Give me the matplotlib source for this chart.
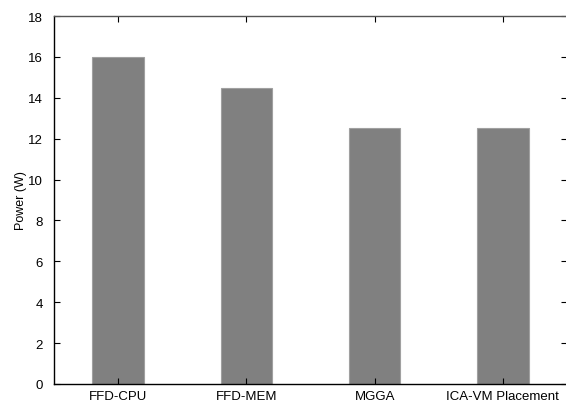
import matplotlib
matplotlib.use("Agg")
import matplotlib.pyplot as plt

categories = ["FFD-CPU", "FFD-MEM", "MGGA", "ICA-VM Placement"]
power = [16.0, 14.5, 12.5, 12.5]
yticks = [0, 2, 4, 6, 8, 10, 12, 14, 16, 18]

plt.rcParams['font.family'] = ['Liberation Sans', 'DejaVu Sans']

fig = plt.figure(figsize=(5.66, 4.02), dpi=100)
ax = fig.add_axes([54/566, 17/402, (567 - 54)/566, 368/402])

x = list(range(1, len(categories) + 1))
ax.bar(x, power, width=0.4, color='#808080', edgecolor='#a0a0a0', linewidth=0.8)

ax.set_xlim(0.5, 4.5)
ax.set_ylim(0, 18)
ax.set_xticks(x)
ax.set_xticklabels(categories, fontsize=9.5)
ax.set_yticks(yticks)
ax.set_yticklabels([str(v) for v in yticks], fontsize=9.5)
ax.set_ylabel("Power (W)", fontsize=9, labelpad=1)

ax.tick_params(direction='in', top=True, right=True, length=4, width=0.8)
ax.tick_params(axis='y', pad=8)
ax.tick_params(axis='x', pad=4)
for s in ['left', 'bottom']:
    ax.spines[s].set_color('black')
    ax.spines[s].set_linewidth(1.0)
ax.spines['top'].set_color('#555555')
ax.spines['top'].set_linewidth(1.0)
ax.spines['right'].set_visible(False)

fig.savefig("out.png", dpi=100)
